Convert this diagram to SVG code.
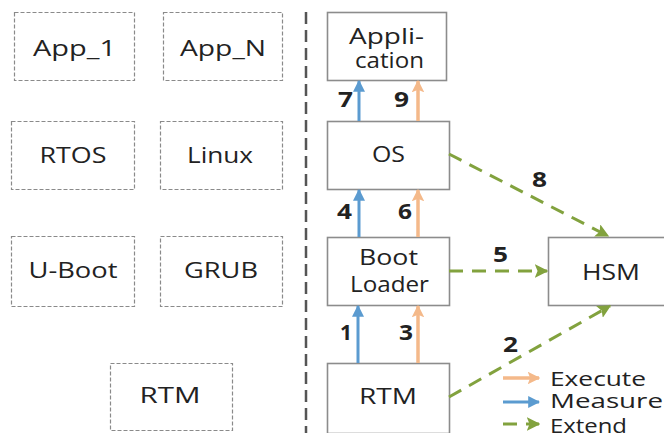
<svg xmlns="http://www.w3.org/2000/svg" width="664" height="433" viewBox="0 0 664 433">
<defs>
<style>
.dbox{fill:#fff;stroke:#8a8a8a;stroke-width:1.2;stroke-dasharray:4 2}
.box{fill:#fff;stroke:#8c8c8c;stroke-width:1.6}
.t{font-family:"Open Sans","DejaVu Sans",sans-serif;font-size:22px;fill:#222;text-anchor:middle}
.n{font-family:"Open Sans","DejaVu Sans",sans-serif;font-size:21px;font-weight:bold;fill:#222;text-anchor:middle}
.lg{font-family:"Open Sans","DejaVu Sans",sans-serif;font-size:20px;fill:#222}
.blue{stroke:#5b9bd0;stroke-width:3;fill:none}
.orange{stroke:#f4b98a;stroke-width:3.5;fill:none}
.green{stroke:#82a23e;stroke-width:3;fill:none;stroke-dasharray:14 9}
</style>
<marker id="ab" viewBox="0 0 10 10" refX="9" refY="5" markerWidth="4" markerHeight="4" orient="auto" markerUnits="strokeWidth"><path d="M0,0 L10,5 L0,10 z" fill="#5b9bd0"/></marker>
<marker id="ao" viewBox="0 0 10 10" refX="9" refY="5" markerWidth="3.6" markerHeight="3.6" orient="auto" markerUnits="strokeWidth"><path d="M0,0 L10,5 L0,10 L2,5 z" fill="#f4b98a"/></marker>
<marker id="ag" viewBox="0 0 10 10" refX="9" refY="5" markerWidth="4.5" markerHeight="4.5" orient="auto" markerUnits="strokeWidth"><path d="M0,0 L10,5 L0,10 L2,5 z" fill="#82a23e"/></marker>
</defs>
<rect width="664" height="433" fill="#fff"/>
<g id="left">
<g id="app1"><rect class="dbox" x="14.5" y="12.5" width="120" height="68"/><text class="t" x="74.5" y="56" textLength="83" lengthAdjust="spacingAndGlyphs">App_1</text></g>
<g id="appn"><rect class="dbox" x="163.5" y="12.5" width="119" height="68"/><text class="t" x="223" y="56" textLength="86" lengthAdjust="spacingAndGlyphs">App_N</text></g>
<g id="rtos"><rect class="dbox" x="11.5" y="121.5" width="123" height="68"/><text class="t" x="73" y="163" textLength="67" lengthAdjust="spacingAndGlyphs">RTOS</text></g>
<g id="linux"><rect class="dbox" x="160.5" y="121.5" width="122" height="68"/><text class="t" x="220" y="163" textLength="66" lengthAdjust="spacingAndGlyphs">Linux</text></g>
<g id="uboot"><rect class="dbox" x="11.5" y="236.5" width="123" height="70"/><text class="t" x="73" y="278" textLength="89" lengthAdjust="spacingAndGlyphs">U-Boot</text></g>
<g id="grub"><rect class="dbox" x="160.5" y="236.5" width="122" height="70"/><text class="t" x="221" y="278" textLength="74" lengthAdjust="spacingAndGlyphs">GRUB</text></g>
<g id="rtm_left"><rect class="dbox" x="110.5" y="363.5" width="122" height="67"/><text class="t" x="170" y="403" textLength="61" lengthAdjust="spacingAndGlyphs">RTM</text></g>
</g>
<line x1="306" y1="12" x2="306" y2="433" stroke="#555" stroke-width="2.5" stroke-dasharray="12 6"/>
<g id="application"><rect class="box" x="327.5" y="12.5" width="119" height="68"/><text class="t" x="386.5" y="44" textLength="75" lengthAdjust="spacingAndGlyphs">Appli-</text><text class="t" x="389.5" y="68" textLength="69" lengthAdjust="spacingAndGlyphs">cation</text></g>
<g id="os"><rect class="box" x="327.5" y="121.5" width="122" height="68"/><text class="t" x="388.5" y="162" textLength="33" lengthAdjust="spacingAndGlyphs">OS</text></g>
<g id="bootloader"><rect class="box" x="327.5" y="237.5" width="122" height="68"/><text class="t" x="388.5" y="265" textLength="59" lengthAdjust="spacingAndGlyphs">Boot</text><text class="t" x="389.5" y="292" textLength="79" lengthAdjust="spacingAndGlyphs">Loader</text></g>
<g id="hsm"><rect class="box" x="548.5" y="237.5" width="120" height="68"/><text class="t" x="611" y="280" textLength="58" lengthAdjust="spacingAndGlyphs">HSM</text></g>
<g id="rtm"><rect class="box" x="327.5" y="363.5" width="122" height="70"/><text class="t" x="388" y="404" textLength="58" lengthAdjust="spacingAndGlyphs">RTM</text></g>
<g id="connectors">
<line class="blue" x1="359" y1="121" x2="359" y2="81" marker-end="url(#ab)"/>
<line class="orange" x1="418" y1="121" x2="418" y2="81" marker-end="url(#ao)"/>
<line class="blue" x1="359" y1="237" x2="359" y2="190" marker-end="url(#ab)"/>
<line class="orange" x1="418" y1="237" x2="418" y2="190" marker-end="url(#ao)"/>
<line class="blue" x1="358" y1="363" x2="358" y2="306" marker-end="url(#ab)"/>
<line class="orange" x1="418" y1="363" x2="418" y2="306" marker-end="url(#ao)"/>
<line class="green" x1="449" y1="154" x2="608" y2="236" marker-end="url(#ag)"/>
<line class="green" x1="449" y1="271" x2="547" y2="271" marker-end="url(#ag)"/>
<line class="green" x1="449" y1="397" x2="610" y2="306" marker-end="url(#ag)"/>
<text class="n" x="345.5" y="107" textLength="15" lengthAdjust="spacingAndGlyphs">7</text>
<text class="n" x="401.5" y="107" textLength="15" lengthAdjust="spacingAndGlyphs">9</text>
<text class="n" x="344.5" y="219" textLength="15" lengthAdjust="spacingAndGlyphs">4</text>
<text class="n" x="405" y="219" textLength="14" lengthAdjust="spacingAndGlyphs">6</text>
<text class="n" x="346" y="340" textLength="12" lengthAdjust="spacingAndGlyphs">1</text>
<text class="n" x="406" y="340" textLength="14" lengthAdjust="spacingAndGlyphs">3</text>
<text class="n" x="539.5" y="187" textLength="15" lengthAdjust="spacingAndGlyphs">8</text>
<text class="n" x="500.5" y="262" textLength="15" lengthAdjust="spacingAndGlyphs">5</text>
<text class="n" x="510.5" y="352" textLength="15" lengthAdjust="spacingAndGlyphs">2</text>
</g>
<g id="legend">
<line class="orange" x1="503" y1="378" x2="539" y2="378" stroke-width="2.5" marker-end="url(#ao)"/>
<line class="blue" x1="503" y1="402" x2="539" y2="402" stroke-width="2.5" marker-end="url(#ab)"/>
<line class="green" x1="503" y1="424" x2="539" y2="424" stroke-width="2.5" stroke-dasharray="8 6" marker-end="url(#ag)"/>
<text class="lg" x="550" y="386" textLength="96" lengthAdjust="spacingAndGlyphs">Execute</text>
<text class="lg" x="550" y="408" textLength="113" lengthAdjust="spacingAndGlyphs">Measure</text>
<text class="lg" x="550" y="433" textLength="77" lengthAdjust="spacingAndGlyphs">Extend</text>
</g>
</svg>
